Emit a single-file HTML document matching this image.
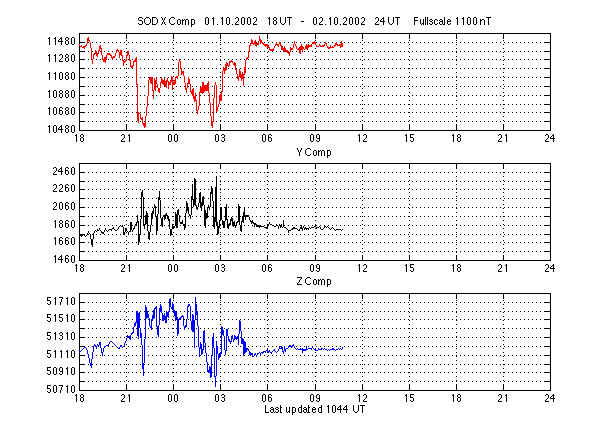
<!DOCTYPE html>
<html lang="en"><head><meta charset="utf-8"><title>SOD magnetometer X Y Z components</title>
<style>html,body{margin:0;padding:0;background:#fff;overflow:hidden}svg{display:block}text{font-family:"Liberation Sans",sans-serif;font-size:11px;fill:#000;fill-opacity:0}</style></head><body>
<svg width="610" height="440" viewBox="0 0 610 440">
<rect x="0" y="0" width="610" height="440" fill="#fff"/>
<g shape-rendering="crispEdges">
<line x1="88" y1="121.5" x2="544" y2="121.5" stroke="#000" stroke-width="1" stroke-dasharray="1 3"/>
<line x1="88" y1="112.5" x2="544" y2="112.5" stroke="#000" stroke-width="1" stroke-dasharray="1 3"/>
<line x1="88" y1="104.5" x2="544" y2="104.5" stroke="#000" stroke-width="1" stroke-dasharray="1 3"/>
<line x1="88" y1="95.5" x2="544" y2="95.5" stroke="#000" stroke-width="1" stroke-dasharray="1 3"/>
<line x1="88" y1="86.5" x2="544" y2="86.5" stroke="#000" stroke-width="1" stroke-dasharray="1 3"/>
<line x1="88" y1="77.5" x2="544" y2="77.5" stroke="#000" stroke-width="1" stroke-dasharray="1 3"/>
<line x1="88" y1="68.5" x2="544" y2="68.5" stroke="#000" stroke-width="1" stroke-dasharray="1 3"/>
<line x1="88" y1="59.5" x2="544" y2="59.5" stroke="#000" stroke-width="1" stroke-dasharray="1 3"/>
<line x1="88" y1="51.5" x2="544" y2="51.5" stroke="#000" stroke-width="1" stroke-dasharray="1 3"/>
<line x1="88" y1="42.5" x2="544" y2="42.5" stroke="#000" stroke-width="1" stroke-dasharray="1 3"/>
<line x1="126.5" y1="40" x2="126.5" y2="125" stroke="#000" stroke-width="1" stroke-dasharray="1 3"/>
<line x1="173.5" y1="40" x2="173.5" y2="125" stroke="#000" stroke-width="1" stroke-dasharray="1 3"/>
<line x1="220.5" y1="40" x2="220.5" y2="125" stroke="#000" stroke-width="1" stroke-dasharray="1 3"/>
<line x1="267.5" y1="40" x2="267.5" y2="125" stroke="#000" stroke-width="1" stroke-dasharray="1 3"/>
<line x1="315.5" y1="40" x2="315.5" y2="125" stroke="#000" stroke-width="1" stroke-dasharray="1 3"/>
<line x1="362.5" y1="40" x2="362.5" y2="125" stroke="#000" stroke-width="1" stroke-dasharray="1 3"/>
<line x1="409.5" y1="40" x2="409.5" y2="125" stroke="#000" stroke-width="1" stroke-dasharray="1 3"/>
<line x1="456.5" y1="40" x2="456.5" y2="125" stroke="#000" stroke-width="1" stroke-dasharray="1 3"/>
<line x1="503.5" y1="40" x2="503.5" y2="125" stroke="#000" stroke-width="1" stroke-dasharray="1 3"/>
<rect x="79" y="33" width="472" height="1" fill="#000"/>
<rect x="79" y="130" width="472" height="1" fill="#000"/>
<rect x="79" y="33" width="1" height="98" fill="#000"/>
<rect x="550" y="33" width="1" height="98" fill="#000"/>
<rect x="79" y="121" width="6" height="1" fill="#000"/>
<rect x="544" y="121" width="7" height="1" fill="#000"/>
<rect x="79" y="112" width="6" height="1" fill="#000"/>
<rect x="544" y="112" width="7" height="1" fill="#000"/>
<rect x="79" y="104" width="6" height="1" fill="#000"/>
<rect x="544" y="104" width="7" height="1" fill="#000"/>
<rect x="79" y="95" width="6" height="1" fill="#000"/>
<rect x="544" y="95" width="7" height="1" fill="#000"/>
<rect x="79" y="86" width="6" height="1" fill="#000"/>
<rect x="544" y="86" width="7" height="1" fill="#000"/>
<rect x="79" y="77" width="6" height="1" fill="#000"/>
<rect x="544" y="77" width="7" height="1" fill="#000"/>
<rect x="79" y="68" width="6" height="1" fill="#000"/>
<rect x="544" y="68" width="7" height="1" fill="#000"/>
<rect x="79" y="59" width="6" height="1" fill="#000"/>
<rect x="544" y="59" width="7" height="1" fill="#000"/>
<rect x="79" y="51" width="6" height="1" fill="#000"/>
<rect x="544" y="51" width="7" height="1" fill="#000"/>
<rect x="79" y="42" width="6" height="1" fill="#000"/>
<rect x="544" y="42" width="7" height="1" fill="#000"/>
<rect x="126" y="33" width="1" height="6" fill="#000"/>
<rect x="126" y="125" width="1" height="6" fill="#000"/>
<rect x="173" y="33" width="1" height="6" fill="#000"/>
<rect x="173" y="125" width="1" height="6" fill="#000"/>
<rect x="220" y="33" width="1" height="6" fill="#000"/>
<rect x="220" y="125" width="1" height="6" fill="#000"/>
<rect x="267" y="33" width="1" height="6" fill="#000"/>
<rect x="267" y="125" width="1" height="6" fill="#000"/>
<rect x="315" y="33" width="1" height="6" fill="#000"/>
<rect x="315" y="125" width="1" height="6" fill="#000"/>
<rect x="362" y="33" width="1" height="6" fill="#000"/>
<rect x="362" y="125" width="1" height="6" fill="#000"/>
<rect x="409" y="33" width="1" height="6" fill="#000"/>
<rect x="409" y="125" width="1" height="6" fill="#000"/>
<rect x="456" y="33" width="1" height="6" fill="#000"/>
<rect x="456" y="125" width="1" height="6" fill="#000"/>
<rect x="503" y="33" width="1" height="6" fill="#000"/>
<rect x="503" y="125" width="1" height="6" fill="#000"/>
<path d="M79 44h1v2h-1zM80 46h1v1h-1zM81 45h1v2h-1zM82 47h1v1h-1zM83 46h1v2h-1zM84 46h1v3h-1zM85 45h1v2h-1zM86 44h1v2h-1zM87 38h1v6h-1zM88 37h1v4h-1zM89 40h1v2h-1zM90 42h1v6h-1zM91 48h1v12h-1zM92 59h1v5h-1zM93 54h1v5h-1zM94 53h1v2h-1zM95 50h1v4h-1zM96 51h1v5h-1zM97 53h1v4h-1zM98 50h1v4h-1zM99 46h1v5h-1zM100 45h1v4h-1zM101 48h1v7h-1zM102 55h1v5h-1zM103 59h1v3h-1zM104 57h1v5h-1zM105 57h1v6h-1zM106 55h1v5h-1zM107 53h1v2h-1zM108 53h1v2h-1zM109 53h1v2h-1zM110 54h1v2h-1zM111 55h1v3h-1zM112 57h1v3h-1zM113 56h1v2h-1zM114 56h1v2h-1zM115 53h1v3h-1zM116 50h1v3h-1zM117 49h1v2h-1zM118 50h1v2h-1zM119 52h1v6h-1zM120 50h1v5h-1zM121 50h1v6h-1zM122 55h1v6h-1zM123 60h1v6h-1zM124 61h1v2h-1zM125 60h1v2h-1zM126 55h1v6h-1zM127 51h1v5h-1zM128 51h1v4h-1zM129 55h1v6h-1zM130 60h1v7h-1zM131 66h1v2h-1zM132 65h1v3h-1zM133 61h1v5h-1zM134 60h1v2h-1zM135 58h1v4h-1zM136 57h1v28h-1zM137 84h1v37h-1zM138 112h1v11h-1zM139 113h1v1h-1zM140 114h1v5h-1zM141 118h1v2h-1zM142 117h1v7h-1zM143 123h1v3h-1zM144 123h1v5h-1zM145 116h1v11h-1zM146 107h1v9h-1zM147 96h1v11h-1zM148 80h1v16h-1zM149 77h1v3h-1zM150 77h1v6h-1zM151 77h1v7h-1zM152 77h1v14h-1zM153 90h1v9h-1zM154 78h1v12h-1zM155 80h1v11h-1zM156 78h1v6h-1zM157 84h1v4h-1zM158 88h1v4h-1zM159 88h1v5h-1zM160 82h1v6h-1zM161 77h1v6h-1zM162 79h1v5h-1zM163 80h1v5h-1zM164 78h1v8h-1zM165 81h1v6h-1zM166 80h1v8h-1zM167 78h1v4h-1zM168 81h1v8h-1zM169 82h1v3h-1zM170 80h1v5h-1zM171 76h1v6h-1zM172 77h1v13h-1zM173 82h1v3h-1zM174 80h1v5h-1zM175 77h1v7h-1zM176 76h1v2h-1zM177 76h1v3h-1zM178 62h1v14h-1zM179 59h1v3h-1zM180 61h1v8h-1zM181 68h1v7h-1zM182 71h1v3h-1zM183 71h1v5h-1zM184 76h1v7h-1zM185 83h1v7h-1zM186 88h1v5h-1zM187 83h1v5h-1zM188 77h1v7h-1zM189 79h1v5h-1zM190 84h1v8h-1zM191 91h1v3h-1zM192 89h1v7h-1zM193 88h1v11h-1zM194 96h1v6h-1zM195 93h1v8h-1zM196 100h1v11h-1zM197 110h1v4h-1zM198 106h1v4h-1zM199 92h1v14h-1zM200 87h1v6h-1zM201 87h1v6h-1zM202 82h1v12h-1zM203 82h1v11h-1zM204 85h1v7h-1zM205 85h1v6h-1zM206 85h1v6h-1zM207 83h1v8h-1zM208 81h1v12h-1zM209 93h1v10h-1zM210 103h1v13h-1zM211 116h1v10h-1zM212 121h1v7h-1zM213 98h1v24h-1zM214 85h1v13h-1zM215 82h1v3h-1zM216 85h1v27h-1zM217 107h1v4h-1zM218 104h1v3h-1zM219 95h1v9h-1zM220 94h1v7h-1zM221 91h1v10h-1zM222 71h1v21h-1zM223 67h1v4h-1zM224 68h1v6h-1zM225 64h1v7h-1zM226 62h1v8h-1zM227 63h1v3h-1zM228 65h1v2h-1zM229 61h1v5h-1zM230 61h1v2h-1zM231 60h1v2h-1zM232 61h1v2h-1zM233 63h1v2h-1zM234 62h1v4h-1zM235 63h1v7h-1zM236 69h1v5h-1zM237 74h1v5h-1zM238 76h1v5h-1zM239 69h1v8h-1zM240 71h1v7h-1zM241 74h1v7h-1zM242 72h1v7h-1zM243 74h1v12h-1zM244 67h1v8h-1zM245 60h1v13h-1zM246 58h1v2h-1zM247 57h1v2h-1zM248 51h1v7h-1zM249 45h1v7h-1zM250 43h1v3h-1zM251 39h1v5h-1zM252 40h1v4h-1zM253 43h1v2h-1zM254 41h1v3h-1zM255 40h1v6h-1zM256 43h1v4h-1zM257 43h1v2h-1zM258 41h1v4h-1zM259 36h1v5h-1zM260 39h1v5h-1zM261 40h1v3h-1zM262 42h1v2h-1zM263 43h1v2h-1zM264 44h1v2h-1zM265 44h1v3h-1zM266 44h1v2h-1zM267 44h1v4h-1zM268 45h1v3h-1zM269 47h1v3h-1zM270 49h1v2h-1zM271 49h1v2h-1zM272 49h1v2h-1zM273 48h1v3h-1zM274 46h1v2h-1zM275 44h1v2h-1zM276 42h1v3h-1zM277 44h1v2h-1zM278 44h1v3h-1zM279 42h1v2h-1zM280 42h1v4h-1zM281 45h1v5h-1zM282 46h1v4h-1zM283 48h1v4h-1zM284 46h1v5h-1zM285 48h1v4h-1zM286 50h1v2h-1zM287 50h1v3h-1zM288 51h1v3h-1zM289 52h1v4h-1zM290 47h1v5h-1zM291 48h1v2h-1zM292 48h1v2h-1zM293 44h1v4h-1zM294 41h1v3h-1zM295 44h1v2h-1zM296 46h1v3h-1zM297 49h1v1h-1zM298 48h1v2h-1zM299 47h1v6h-1zM300 46h1v8h-1zM301 44h1v6h-1zM302 46h1v6h-1zM303 47h1v2h-1zM304 49h1v1h-1zM305 46h1v3h-1zM306 44h1v5h-1zM307 45h1v5h-1zM308 44h1v4h-1zM309 45h1v2h-1zM310 45h1v2h-1zM311 44h1v3h-1zM312 42h1v2h-1zM313 42h1v2h-1zM314 41h1v3h-1zM315 42h1v3h-1zM316 45h1v2h-1zM317 46h1v1h-1zM318 46h1v1h-1zM319 44h1v2h-1zM320 45h1v2h-1zM321 46h1v1h-1zM322 45h1v2h-1zM323 45h1v2h-1zM324 44h1v2h-1zM325 42h1v2h-1zM326 43h1v3h-1zM327 46h1v2h-1zM328 47h1v2h-1zM329 47h1v2h-1zM330 45h1v3h-1zM331 47h1v1h-1zM332 46h1v2h-1zM333 47h1v1h-1zM334 45h1v2h-1zM335 43h1v3h-1zM336 42h1v3h-1zM337 44h1v2h-1zM338 45h1v1h-1zM339 44h1v2h-1zM340 44h1v4h-1zM341 41h1v6h-1zM342 43h1v4h-1z" fill="#ff0000"/>
<line x1="88" y1="251.5" x2="544" y2="251.5" stroke="#000" stroke-width="1" stroke-dasharray="1 3"/>
<line x1="88" y1="242.5" x2="544" y2="242.5" stroke="#000" stroke-width="1" stroke-dasharray="1 3"/>
<line x1="88" y1="234.5" x2="544" y2="234.5" stroke="#000" stroke-width="1" stroke-dasharray="1 3"/>
<line x1="88" y1="225.5" x2="544" y2="225.5" stroke="#000" stroke-width="1" stroke-dasharray="1 3"/>
<line x1="88" y1="216.5" x2="544" y2="216.5" stroke="#000" stroke-width="1" stroke-dasharray="1 3"/>
<line x1="88" y1="207.5" x2="544" y2="207.5" stroke="#000" stroke-width="1" stroke-dasharray="1 3"/>
<line x1="88" y1="198.5" x2="544" y2="198.5" stroke="#000" stroke-width="1" stroke-dasharray="1 3"/>
<line x1="88" y1="189.5" x2="544" y2="189.5" stroke="#000" stroke-width="1" stroke-dasharray="1 3"/>
<line x1="88" y1="181.5" x2="544" y2="181.5" stroke="#000" stroke-width="1" stroke-dasharray="1 3"/>
<line x1="88" y1="172.5" x2="544" y2="172.5" stroke="#000" stroke-width="1" stroke-dasharray="1 3"/>
<line x1="126.5" y1="172" x2="126.5" y2="255" stroke="#000" stroke-width="1" stroke-dasharray="1 3"/>
<line x1="173.5" y1="172" x2="173.5" y2="255" stroke="#000" stroke-width="1" stroke-dasharray="1 3"/>
<line x1="220.5" y1="172" x2="220.5" y2="255" stroke="#000" stroke-width="1" stroke-dasharray="1 3"/>
<line x1="267.5" y1="172" x2="267.5" y2="255" stroke="#000" stroke-width="1" stroke-dasharray="1 3"/>
<line x1="315.5" y1="172" x2="315.5" y2="255" stroke="#000" stroke-width="1" stroke-dasharray="1 3"/>
<line x1="362.5" y1="172" x2="362.5" y2="255" stroke="#000" stroke-width="1" stroke-dasharray="1 3"/>
<line x1="409.5" y1="172" x2="409.5" y2="255" stroke="#000" stroke-width="1" stroke-dasharray="1 3"/>
<line x1="456.5" y1="172" x2="456.5" y2="255" stroke="#000" stroke-width="1" stroke-dasharray="1 3"/>
<line x1="503.5" y1="172" x2="503.5" y2="255" stroke="#000" stroke-width="1" stroke-dasharray="1 3"/>
<rect x="79" y="163" width="472" height="1" fill="#000"/>
<rect x="79" y="260" width="472" height="1" fill="#000"/>
<rect x="79" y="163" width="1" height="98" fill="#000"/>
<rect x="550" y="163" width="1" height="98" fill="#000"/>
<rect x="79" y="251" width="6" height="1" fill="#000"/>
<rect x="544" y="251" width="7" height="1" fill="#000"/>
<rect x="79" y="242" width="6" height="1" fill="#000"/>
<rect x="544" y="242" width="7" height="1" fill="#000"/>
<rect x="79" y="234" width="6" height="1" fill="#000"/>
<rect x="544" y="234" width="7" height="1" fill="#000"/>
<rect x="79" y="225" width="6" height="1" fill="#000"/>
<rect x="544" y="225" width="7" height="1" fill="#000"/>
<rect x="79" y="216" width="6" height="1" fill="#000"/>
<rect x="544" y="216" width="7" height="1" fill="#000"/>
<rect x="79" y="207" width="6" height="1" fill="#000"/>
<rect x="544" y="207" width="7" height="1" fill="#000"/>
<rect x="79" y="198" width="6" height="1" fill="#000"/>
<rect x="544" y="198" width="7" height="1" fill="#000"/>
<rect x="79" y="189" width="6" height="1" fill="#000"/>
<rect x="544" y="189" width="7" height="1" fill="#000"/>
<rect x="79" y="181" width="6" height="1" fill="#000"/>
<rect x="544" y="181" width="7" height="1" fill="#000"/>
<rect x="79" y="172" width="6" height="1" fill="#000"/>
<rect x="544" y="172" width="7" height="1" fill="#000"/>
<rect x="126" y="163" width="1" height="6" fill="#000"/>
<rect x="126" y="255" width="1" height="6" fill="#000"/>
<rect x="173" y="163" width="1" height="6" fill="#000"/>
<rect x="173" y="255" width="1" height="6" fill="#000"/>
<rect x="220" y="163" width="1" height="6" fill="#000"/>
<rect x="220" y="255" width="1" height="6" fill="#000"/>
<rect x="267" y="163" width="1" height="6" fill="#000"/>
<rect x="267" y="255" width="1" height="6" fill="#000"/>
<rect x="315" y="163" width="1" height="6" fill="#000"/>
<rect x="315" y="255" width="1" height="6" fill="#000"/>
<rect x="362" y="163" width="1" height="6" fill="#000"/>
<rect x="362" y="255" width="1" height="6" fill="#000"/>
<rect x="409" y="163" width="1" height="6" fill="#000"/>
<rect x="409" y="255" width="1" height="6" fill="#000"/>
<rect x="456" y="163" width="1" height="6" fill="#000"/>
<rect x="456" y="255" width="1" height="6" fill="#000"/>
<rect x="503" y="163" width="1" height="6" fill="#000"/>
<rect x="503" y="255" width="1" height="6" fill="#000"/>
<path d="M79 234h1v1h-1zM80 235h1v1h-1zM81 235h1v2h-1zM82 234h1v2h-1zM83 234h1v1h-1zM84 234h1v2h-1zM85 236h1v1h-1zM86 235h1v1h-1zM87 233h1v2h-1zM88 231h1v2h-1zM89 233h1v1h-1zM90 234h1v5h-1zM91 239h1v6h-1zM92 239h1v8h-1zM93 233h1v6h-1zM94 231h1v2h-1zM95 230h1v1h-1zM96 231h1v1h-1zM97 229h1v2h-1zM98 230h1v1h-1zM99 228h1v2h-1zM100 230h1v1h-1zM101 231h1v2h-1zM102 232h1v2h-1zM103 232h1v2h-1zM104 230h1v2h-1zM105 228h1v2h-1zM106 230h1v1h-1zM107 231h1v1h-1zM108 230h1v1h-1zM109 229h1v1h-1zM110 229h1v1h-1zM111 229h1v2h-1zM112 228h1v1h-1zM113 227h1v2h-1zM114 229h1v1h-1zM115 230h1v1h-1zM116 230h1v1h-1zM117 229h1v1h-1zM118 227h1v2h-1zM119 226h1v1h-1zM120 225h1v1h-1zM121 226h1v1h-1zM122 225h1v2h-1zM123 227h1v8h-1zM124 232h1v3h-1zM125 228h1v4h-1zM126 229h1v2h-1zM127 231h1v1h-1zM128 232h1v3h-1zM129 231h1v1h-1zM130 222h1v10h-1zM131 222h1v8h-1zM132 230h1v2h-1zM133 228h1v2h-1zM134 226h1v3h-1zM135 224h1v2h-1zM136 222h1v3h-1zM137 215h1v8h-1zM138 221h1v24h-1zM139 234h1v8h-1zM140 219h1v16h-1zM141 192h1v27h-1zM142 190h1v7h-1zM143 197h1v29h-1zM144 224h1v5h-1zM145 215h1v10h-1zM146 211h1v13h-1zM147 213h1v18h-1zM148 231h1v8h-1zM149 232h1v8h-1zM150 225h1v7h-1zM151 213h1v12h-1zM152 211h1v8h-1zM153 208h1v6h-1zM154 204h1v4h-1zM155 206h1v11h-1zM156 216h1v19h-1zM157 214h1v17h-1zM158 197h1v17h-1zM159 191h1v9h-1zM160 200h1v18h-1zM161 218h1v8h-1zM162 217h1v10h-1zM163 215h1v2h-1zM164 215h1v5h-1zM165 214h1v5h-1zM166 213h1v3h-1zM167 215h1v4h-1zM168 216h1v5h-1zM169 219h1v10h-1zM170 229h1v7h-1zM171 229h1v6h-1zM172 224h1v5h-1zM173 226h1v2h-1zM174 226h1v2h-1zM175 212h1v14h-1zM176 214h1v14h-1zM177 210h1v18h-1zM178 209h1v6h-1zM179 215h1v7h-1zM180 222h1v2h-1zM181 222h1v2h-1zM182 220h1v4h-1zM183 224h1v2h-1zM184 224h1v6h-1zM185 213h1v15h-1zM186 201h1v12h-1zM187 203h1v8h-1zM188 207h1v7h-1zM189 214h1v2h-1zM190 215h1v4h-1zM191 196h1v19h-1zM192 184h1v16h-1zM193 199h1v8h-1zM194 178h1v27h-1zM195 179h1v27h-1zM196 205h1v4h-1zM197 207h1v3h-1zM198 203h1v4h-1zM199 193h1v10h-1zM200 192h1v15h-1zM201 202h1v9h-1zM202 197h1v9h-1zM203 196h1v9h-1zM204 205h1v21h-1zM205 210h1v18h-1zM206 213h1v6h-1zM207 207h1v11h-1zM208 205h1v3h-1zM209 207h1v3h-1zM210 192h1v15h-1zM211 186h1v8h-1zM212 188h1v13h-1zM213 201h1v26h-1zM214 217h1v12h-1zM215 187h1v35h-1zM216 176h1v50h-1zM217 222h1v13h-1zM218 226h1v8h-1zM219 220h1v8h-1zM220 207h1v13h-1zM221 207h1v13h-1zM222 220h1v5h-1zM223 221h1v7h-1zM224 221h1v7h-1zM225 207h1v14h-1zM226 204h1v16h-1zM227 219h1v9h-1zM228 224h1v5h-1zM229 223h1v3h-1zM230 219h1v6h-1zM231 217h1v4h-1zM232 218h1v8h-1zM233 222h1v5h-1zM234 221h1v5h-1zM235 225h1v3h-1zM236 222h1v4h-1zM237 221h1v2h-1zM238 204h1v18h-1zM239 206h1v19h-1zM240 225h1v6h-1zM241 221h1v11h-1zM242 216h1v6h-1zM243 212h1v11h-1zM244 207h1v9h-1zM245 215h1v5h-1zM246 215h1v2h-1zM247 215h1v2h-1zM248 215h1v2h-1zM249 217h1v3h-1zM250 220h1v2h-1zM251 221h1v3h-1zM252 220h1v3h-1zM253 222h1v2h-1zM254 223h1v4h-1zM255 223h1v2h-1zM256 224h1v3h-1zM257 225h1v2h-1zM258 225h1v2h-1zM259 225h1v3h-1zM260 226h1v1h-1zM261 226h1v1h-1zM262 226h1v1h-1zM263 226h1v1h-1zM264 227h1v1h-1zM265 227h1v1h-1zM266 227h1v2h-1zM267 225h1v3h-1zM268 224h1v1h-1zM269 222h1v2h-1zM270 224h1v1h-1zM271 224h1v1h-1zM272 225h1v1h-1zM273 225h1v1h-1zM274 226h1v1h-1zM275 226h1v1h-1zM276 224h1v2h-1zM277 225h1v1h-1zM278 226h1v3h-1zM279 224h1v2h-1zM280 225h1v3h-1zM281 224h1v3h-1zM282 227h1v1h-1zM283 220h1v7h-1zM284 227h1v1h-1zM285 227h1v1h-1zM286 228h1v1h-1zM287 229h1v1h-1zM288 230h1v3h-1zM289 230h1v1h-1zM290 230h1v1h-1zM291 229h1v1h-1zM292 228h1v2h-1zM293 227h1v2h-1zM294 227h1v2h-1zM295 228h1v1h-1zM296 228h1v1h-1zM297 229h1v1h-1zM298 230h1v1h-1zM299 229h1v2h-1zM300 227h1v2h-1zM301 225h1v4h-1zM302 228h1v3h-1zM303 226h1v2h-1zM304 228h1v2h-1zM305 227h1v2h-1zM306 228h1v2h-1zM307 228h1v1h-1zM308 228h1v2h-1zM309 227h1v1h-1zM310 228h1v1h-1zM311 227h1v1h-1zM312 227h1v1h-1zM313 227h1v1h-1zM314 226h1v1h-1zM315 225h1v2h-1zM316 227h1v2h-1zM317 227h1v1h-1zM318 227h1v1h-1zM319 226h1v1h-1zM320 227h1v2h-1zM321 229h1v1h-1zM322 229h1v1h-1zM323 228h1v1h-1zM324 226h1v2h-1zM325 226h1v1h-1zM326 227h1v1h-1zM327 226h1v1h-1zM328 227h1v1h-1zM329 228h1v1h-1zM330 229h1v1h-1zM331 228h1v1h-1zM332 227h1v1h-1zM333 228h1v1h-1zM334 229h1v1h-1zM335 230h1v1h-1zM336 229h1v1h-1zM337 229h1v1h-1zM338 229h1v1h-1zM339 229h1v1h-1zM340 229h1v1h-1zM341 230h1v1h-1zM342 229h1v1h-1z" fill="#000000"/>
<line x1="88" y1="381.5" x2="544" y2="381.5" stroke="#000" stroke-width="1" stroke-dasharray="1 3"/>
<line x1="88" y1="372.5" x2="544" y2="372.5" stroke="#000" stroke-width="1" stroke-dasharray="1 3"/>
<line x1="88" y1="364.5" x2="544" y2="364.5" stroke="#000" stroke-width="1" stroke-dasharray="1 3"/>
<line x1="88" y1="355.5" x2="544" y2="355.5" stroke="#000" stroke-width="1" stroke-dasharray="1 3"/>
<line x1="88" y1="346.5" x2="544" y2="346.5" stroke="#000" stroke-width="1" stroke-dasharray="1 3"/>
<line x1="88" y1="337.5" x2="544" y2="337.5" stroke="#000" stroke-width="1" stroke-dasharray="1 3"/>
<line x1="88" y1="328.5" x2="544" y2="328.5" stroke="#000" stroke-width="1" stroke-dasharray="1 3"/>
<line x1="88" y1="319.5" x2="544" y2="319.5" stroke="#000" stroke-width="1" stroke-dasharray="1 3"/>
<line x1="88" y1="311.5" x2="544" y2="311.5" stroke="#000" stroke-width="1" stroke-dasharray="1 3"/>
<line x1="88" y1="302.5" x2="544" y2="302.5" stroke="#000" stroke-width="1" stroke-dasharray="1 3"/>
<line x1="126.5" y1="300" x2="126.5" y2="385" stroke="#000" stroke-width="1" stroke-dasharray="1 3"/>
<line x1="173.5" y1="300" x2="173.5" y2="385" stroke="#000" stroke-width="1" stroke-dasharray="1 3"/>
<line x1="220.5" y1="300" x2="220.5" y2="385" stroke="#000" stroke-width="1" stroke-dasharray="1 3"/>
<line x1="267.5" y1="300" x2="267.5" y2="385" stroke="#000" stroke-width="1" stroke-dasharray="1 3"/>
<line x1="315.5" y1="300" x2="315.5" y2="385" stroke="#000" stroke-width="1" stroke-dasharray="1 3"/>
<line x1="362.5" y1="300" x2="362.5" y2="385" stroke="#000" stroke-width="1" stroke-dasharray="1 3"/>
<line x1="409.5" y1="300" x2="409.5" y2="385" stroke="#000" stroke-width="1" stroke-dasharray="1 3"/>
<line x1="456.5" y1="300" x2="456.5" y2="385" stroke="#000" stroke-width="1" stroke-dasharray="1 3"/>
<line x1="503.5" y1="300" x2="503.5" y2="385" stroke="#000" stroke-width="1" stroke-dasharray="1 3"/>
<rect x="79" y="293" width="472" height="1" fill="#000"/>
<rect x="79" y="390" width="472" height="1" fill="#000"/>
<rect x="79" y="293" width="1" height="98" fill="#000"/>
<rect x="550" y="293" width="1" height="98" fill="#000"/>
<rect x="79" y="381" width="6" height="1" fill="#000"/>
<rect x="544" y="381" width="7" height="1" fill="#000"/>
<rect x="79" y="372" width="6" height="1" fill="#000"/>
<rect x="544" y="372" width="7" height="1" fill="#000"/>
<rect x="79" y="364" width="6" height="1" fill="#000"/>
<rect x="544" y="364" width="7" height="1" fill="#000"/>
<rect x="79" y="355" width="6" height="1" fill="#000"/>
<rect x="544" y="355" width="7" height="1" fill="#000"/>
<rect x="79" y="346" width="6" height="1" fill="#000"/>
<rect x="544" y="346" width="7" height="1" fill="#000"/>
<rect x="79" y="337" width="6" height="1" fill="#000"/>
<rect x="544" y="337" width="7" height="1" fill="#000"/>
<rect x="79" y="328" width="6" height="1" fill="#000"/>
<rect x="544" y="328" width="7" height="1" fill="#000"/>
<rect x="79" y="319" width="6" height="1" fill="#000"/>
<rect x="544" y="319" width="7" height="1" fill="#000"/>
<rect x="79" y="311" width="6" height="1" fill="#000"/>
<rect x="544" y="311" width="7" height="1" fill="#000"/>
<rect x="79" y="302" width="6" height="1" fill="#000"/>
<rect x="544" y="302" width="7" height="1" fill="#000"/>
<rect x="126" y="293" width="1" height="6" fill="#000"/>
<rect x="126" y="385" width="1" height="6" fill="#000"/>
<rect x="173" y="293" width="1" height="6" fill="#000"/>
<rect x="173" y="385" width="1" height="6" fill="#000"/>
<rect x="220" y="293" width="1" height="6" fill="#000"/>
<rect x="220" y="385" width="1" height="6" fill="#000"/>
<rect x="267" y="293" width="1" height="6" fill="#000"/>
<rect x="267" y="385" width="1" height="6" fill="#000"/>
<rect x="315" y="293" width="1" height="6" fill="#000"/>
<rect x="315" y="385" width="1" height="6" fill="#000"/>
<rect x="362" y="293" width="1" height="6" fill="#000"/>
<rect x="362" y="385" width="1" height="6" fill="#000"/>
<rect x="409" y="293" width="1" height="6" fill="#000"/>
<rect x="409" y="385" width="1" height="6" fill="#000"/>
<rect x="456" y="293" width="1" height="6" fill="#000"/>
<rect x="456" y="385" width="1" height="6" fill="#000"/>
<rect x="503" y="293" width="1" height="6" fill="#000"/>
<rect x="503" y="385" width="1" height="6" fill="#000"/>
<path d="M79 351h1v2h-1zM80 351h1v1h-1zM81 350h1v1h-1zM82 349h1v1h-1zM83 348h1v1h-1zM84 347h1v1h-1zM85 347h1v1h-1zM86 348h1v2h-1zM87 350h1v4h-1zM88 354h1v4h-1zM89 358h1v5h-1zM90 363h1v3h-1zM91 359h1v9h-1zM92 352h1v7h-1zM93 346h1v6h-1zM94 344h1v2h-1zM95 345h1v2h-1zM96 346h1v3h-1zM97 344h1v2h-1zM98 345h1v2h-1zM99 342h1v3h-1zM100 342h1v6h-1zM101 348h1v5h-1zM102 352h1v4h-1zM103 348h1v4h-1zM104 346h1v2h-1zM105 346h1v1h-1zM106 345h1v1h-1zM107 345h1v1h-1zM108 344h1v2h-1zM109 342h1v2h-1zM110 341h1v1h-1zM111 341h1v1h-1zM112 342h1v1h-1zM113 343h1v1h-1zM114 344h1v1h-1zM115 345h1v1h-1zM116 346h1v1h-1zM117 347h1v1h-1zM118 348h1v1h-1zM119 347h1v2h-1zM120 345h1v2h-1zM121 345h1v2h-1zM122 347h1v1h-1zM123 346h1v1h-1zM124 343h1v3h-1zM125 341h1v2h-1zM126 338h1v3h-1zM127 335h1v3h-1zM128 336h1v1h-1zM129 336h1v3h-1zM130 335h1v5h-1zM131 333h1v2h-1zM132 332h1v2h-1zM133 327h1v6h-1zM134 323h1v4h-1zM135 322h1v4h-1zM136 311h1v12h-1zM137 311h1v25h-1zM138 313h1v26h-1zM139 312h1v16h-1zM140 328h1v10h-1zM141 333h1v12h-1zM142 345h1v24h-1zM143 363h1v13h-1zM144 339h1v24h-1zM145 305h1v34h-1zM146 307h1v12h-1zM147 311h1v7h-1zM148 314h1v4h-1zM149 318h1v8h-1zM150 326h1v2h-1zM151 319h1v11h-1zM152 315h1v6h-1zM153 310h1v9h-1zM154 308h1v10h-1zM155 307h1v2h-1zM156 306h1v21h-1zM157 326h1v9h-1zM158 325h1v12h-1zM159 308h1v17h-1zM160 304h1v8h-1zM161 306h1v7h-1zM162 313h1v8h-1zM163 315h1v6h-1zM164 313h1v6h-1zM165 316h1v7h-1zM166 311h1v12h-1zM167 312h1v5h-1zM168 311h1v7h-1zM169 299h1v13h-1zM170 298h1v9h-1zM171 307h1v2h-1zM172 303h1v7h-1zM173 304h1v9h-1zM174 310h1v6h-1zM175 311h1v10h-1zM176 311h1v8h-1zM177 317h1v19h-1zM178 319h1v15h-1zM179 318h1v2h-1zM180 317h1v2h-1zM181 316h1v2h-1zM182 315h1v2h-1zM183 316h1v10h-1zM184 326h1v4h-1zM185 325h1v3h-1zM186 319h1v8h-1zM187 306h1v13h-1zM188 304h1v3h-1zM189 304h1v2h-1zM190 306h1v15h-1zM191 321h1v9h-1zM192 314h1v18h-1zM193 315h1v17h-1zM194 320h1v28h-1zM195 297h1v23h-1zM196 304h1v11h-1zM197 311h1v15h-1zM198 326h1v21h-1zM199 347h1v10h-1zM200 342h1v7h-1zM201 344h1v11h-1zM202 349h1v5h-1zM203 331h1v19h-1zM204 330h1v13h-1zM205 343h1v10h-1zM206 353h1v9h-1zM207 362h1v10h-1zM208 370h1v3h-1zM209 366h1v7h-1zM210 367h1v11h-1zM211 355h1v22h-1zM212 337h1v19h-1zM213 333h1v15h-1zM214 348h1v29h-1zM215 376h1v11h-1zM216 341h1v35h-1zM217 346h1v8h-1zM218 354h1v6h-1zM219 353h1v5h-1zM220 352h1v4h-1zM221 326h1v28h-1zM222 327h1v8h-1zM223 330h1v6h-1zM224 336h1v14h-1zM225 350h1v5h-1zM226 329h1v22h-1zM227 329h1v7h-1zM228 336h1v5h-1zM229 339h1v3h-1zM230 341h1v3h-1zM231 336h1v6h-1zM232 335h1v4h-1zM233 339h1v3h-1zM234 335h1v5h-1zM235 336h1v3h-1zM236 337h1v3h-1zM237 336h1v3h-1zM238 334h1v11h-1zM239 320h1v14h-1zM240 321h1v10h-1zM241 331h1v13h-1zM242 338h1v6h-1zM243 339h1v17h-1zM244 341h1v13h-1zM245 342h1v11h-1zM246 348h1v4h-1zM247 348h1v2h-1zM248 349h1v2h-1zM249 351h1v4h-1zM250 352h1v4h-1zM251 353h1v2h-1zM252 353h1v4h-1zM253 356h1v1h-1zM254 354h1v2h-1zM255 353h1v2h-1zM256 355h1v2h-1zM257 353h1v2h-1zM258 353h1v1h-1zM259 352h1v1h-1zM260 353h1v3h-1zM261 352h1v1h-1zM262 352h1v2h-1zM263 351h1v2h-1zM264 351h1v1h-1zM265 351h1v2h-1zM266 350h1v1h-1zM267 349h1v3h-1zM268 351h1v2h-1zM269 350h1v2h-1zM270 352h1v1h-1zM271 352h1v2h-1zM272 351h1v1h-1zM273 350h1v1h-1zM274 349h1v2h-1zM275 351h1v1h-1zM276 352h1v1h-1zM277 351h1v1h-1zM278 349h1v2h-1zM279 346h1v3h-1zM280 348h1v1h-1zM281 346h1v3h-1zM282 347h1v5h-1zM283 351h1v3h-1zM284 346h1v5h-1zM285 349h1v3h-1zM286 348h1v1h-1zM287 348h1v1h-1zM288 346h1v2h-1zM289 345h1v2h-1zM290 345h1v2h-1zM291 346h1v2h-1zM292 345h1v2h-1zM293 344h1v2h-1zM294 346h1v2h-1zM295 348h1v1h-1zM296 349h1v1h-1zM297 348h1v1h-1zM298 349h1v1h-1zM299 349h1v1h-1zM300 348h1v2h-1zM301 349h1v1h-1zM302 348h1v5h-1zM303 349h1v2h-1zM304 349h1v2h-1zM305 349h1v2h-1zM306 346h1v4h-1zM307 349h1v1h-1zM308 348h1v1h-1zM309 348h1v1h-1zM310 348h1v1h-1zM311 348h1v2h-1zM312 346h1v2h-1zM313 348h1v1h-1zM314 349h1v1h-1zM315 349h1v2h-1zM316 350h1v1h-1zM317 350h1v1h-1zM318 348h1v2h-1zM319 349h1v1h-1zM320 349h1v1h-1zM321 348h1v2h-1zM322 348h1v1h-1zM323 349h1v1h-1zM324 348h1v1h-1zM325 349h1v1h-1zM326 349h1v1h-1zM327 350h1v1h-1zM328 349h1v1h-1zM329 350h1v1h-1zM330 349h1v1h-1zM331 349h1v1h-1zM332 348h1v2h-1zM333 348h1v2h-1zM334 349h1v1h-1zM335 350h1v1h-1zM336 349h1v1h-1zM337 349h1v1h-1zM338 348h1v1h-1zM339 349h1v1h-1zM340 348h1v1h-1zM341 349h1v1h-1zM342 347h1v2h-1z" fill="#0000ff"/>
<defs>
<path id="g2d" d="M0 4h3v1h-3z"/>
<path id="g2e" d="M0 7h1v1h-1z"/>
<path id="g30" d="M1 0h2v1h-2zM0 1h1v1h-1zM3 1h1v1h-1zM0 2h1v1h-1zM3 2h1v1h-1zM0 3h1v1h-1zM3 3h1v1h-1zM0 4h1v1h-1zM3 4h1v1h-1zM0 5h1v1h-1zM3 5h1v1h-1zM0 6h1v1h-1zM3 6h1v1h-1zM1 7h2v1h-2z"/>
<path id="g31" d="M1 0h1v1h-1zM0 1h2v1h-2zM1 2h1v1h-1zM1 3h1v1h-1zM1 4h1v1h-1zM1 5h1v1h-1zM1 6h1v1h-1zM1 7h1v1h-1z"/>
<path id="g32" d="M1 0h2v1h-2zM0 1h1v1h-1zM3 1h1v1h-1zM3 2h1v1h-1zM3 3h1v1h-1zM2 4h1v1h-1zM1 5h1v1h-1zM0 6h1v1h-1zM0 7h4v1h-4z"/>
<path id="g33" d="M1 0h2v1h-2zM0 1h1v1h-1zM3 1h1v1h-1zM3 2h1v1h-1zM1 3h2v1h-2zM3 4h1v1h-1zM3 5h1v1h-1zM0 6h1v1h-1zM3 6h1v1h-1zM1 7h2v1h-2z"/>
<path id="g34" d="M3 0h1v1h-1zM2 1h2v1h-2zM1 2h1v1h-1zM3 2h1v1h-1zM0 3h1v1h-1zM3 3h1v1h-1zM0 4h5v1h-5zM3 5h1v1h-1zM3 6h1v1h-1zM3 7h1v1h-1z"/>
<path id="g35" d="M0 0h4v1h-4zM0 1h1v1h-1zM0 2h1v1h-1zM0 3h3v1h-3zM3 4h1v1h-1zM3 5h1v1h-1zM0 6h1v1h-1zM3 6h1v1h-1zM1 7h2v1h-2z"/>
<path id="g36" d="M1 0h2v1h-2zM0 1h1v1h-1zM3 1h1v1h-1zM0 2h1v1h-1zM0 3h3v1h-3zM0 4h1v1h-1zM3 4h1v1h-1zM0 5h1v1h-1zM3 5h1v1h-1zM0 6h1v1h-1zM3 6h1v1h-1zM1 7h2v1h-2z"/>
<path id="g37" d="M0 0h4v1h-4zM3 1h1v1h-1zM2 2h1v1h-1zM2 3h1v1h-1zM2 4h1v1h-1zM1 5h1v1h-1zM1 6h1v1h-1zM1 7h1v1h-1z"/>
<path id="g38" d="M1 0h2v1h-2zM0 1h1v1h-1zM3 1h1v1h-1zM0 2h1v1h-1zM3 2h1v1h-1zM1 3h2v1h-2zM0 4h1v1h-1zM3 4h1v1h-1zM0 5h1v1h-1zM3 5h1v1h-1zM0 6h1v1h-1zM3 6h1v1h-1zM1 7h2v1h-2z"/>
<path id="g39" d="M1 0h2v1h-2zM0 1h1v1h-1zM3 1h1v1h-1zM0 2h1v1h-1zM3 2h1v1h-1zM0 3h1v1h-1zM3 3h1v1h-1zM1 4h3v1h-3zM3 5h1v1h-1zM0 6h1v1h-1zM3 6h1v1h-1zM1 7h2v1h-2z"/>
<path id="g43" d="M2 0h3v1h-3zM1 1h1v1h-1zM5 1h1v1h-1zM0 2h1v1h-1zM0 3h1v1h-1zM0 4h1v1h-1zM0 5h1v1h-1zM1 6h1v1h-1zM5 6h1v1h-1zM2 7h3v1h-3z"/>
<path id="g44" d="M0 0h4v1h-4zM0 1h1v1h-1zM4 1h1v1h-1zM0 2h1v1h-1zM5 2h1v1h-1zM0 3h1v1h-1zM5 3h1v1h-1zM0 4h1v1h-1zM5 4h1v1h-1zM0 5h1v1h-1zM5 5h1v1h-1zM0 6h1v1h-1zM4 6h1v1h-1zM0 7h4v1h-4z"/>
<path id="g46" d="M0 0h4v1h-4zM0 1h1v1h-1zM0 2h1v1h-1zM0 3h4v1h-4zM0 4h1v1h-1zM0 5h1v1h-1zM0 6h1v1h-1zM0 7h1v1h-1z"/>
<path id="g4c" d="M0 0h1v1h-1zM0 1h1v1h-1zM0 2h1v1h-1zM0 3h1v1h-1zM0 4h1v1h-1zM0 5h1v1h-1zM0 6h1v1h-1zM0 7h4v1h-4z"/>
<path id="g4f" d="M2 0h3v1h-3zM1 1h1v1h-1zM5 1h1v1h-1zM0 2h1v1h-1zM6 2h1v1h-1zM0 3h1v1h-1zM6 3h1v1h-1zM0 4h1v1h-1zM6 4h1v1h-1zM0 5h1v1h-1zM6 5h1v1h-1zM1 6h1v1h-1zM5 6h1v1h-1zM2 7h3v1h-3z"/>
<path id="g53" d="M1 0h3v1h-3zM0 1h1v1h-1zM4 1h1v1h-1zM0 2h1v1h-1zM1 3h3v1h-3zM4 4h1v1h-1zM4 5h1v1h-1zM0 6h1v1h-1zM4 6h1v1h-1zM1 7h3v1h-3z"/>
<path id="g54" d="M0 0h5v1h-5zM2 1h1v1h-1zM2 2h1v1h-1zM2 3h1v1h-1zM2 4h1v1h-1zM2 5h1v1h-1zM2 6h1v1h-1zM2 7h1v1h-1z"/>
<path id="g55" d="M0 0h1v1h-1zM5 0h1v1h-1zM0 1h1v1h-1zM5 1h1v1h-1zM0 2h1v1h-1zM5 2h1v1h-1zM0 3h1v1h-1zM5 3h1v1h-1zM0 4h1v1h-1zM5 4h1v1h-1zM0 5h1v1h-1zM5 5h1v1h-1zM1 6h1v1h-1zM4 6h1v1h-1zM2 7h2v1h-2z"/>
<path id="g58" d="M0 0h1v1h-1zM4 0h1v1h-1zM1 1h1v1h-1zM3 1h1v1h-1zM1 2h1v1h-1zM3 2h1v1h-1zM2 3h1v1h-1zM2 4h1v1h-1zM1 5h1v1h-1zM3 5h1v1h-1zM1 6h1v1h-1zM3 6h1v1h-1zM0 7h1v1h-1zM4 7h1v1h-1z"/>
<path id="g59" d="M0 0h1v1h-1zM4 0h1v1h-1zM0 1h1v1h-1zM4 1h1v1h-1zM1 2h1v1h-1zM3 2h1v1h-1zM1 3h1v1h-1zM3 3h1v1h-1zM2 4h1v1h-1zM2 5h1v1h-1zM2 6h1v1h-1zM2 7h1v1h-1z"/>
<path id="g5a" d="M0 0h5v1h-5zM4 1h1v1h-1zM3 2h1v1h-1zM2 3h1v1h-1zM2 4h1v1h-1zM1 5h1v1h-1zM0 6h1v1h-1zM0 7h5v1h-5z"/>
<path id="g61" d="M1 2h2v1h-2zM0 3h1v1h-1zM3 3h1v1h-1zM1 4h3v1h-3zM0 5h1v1h-1zM3 5h1v1h-1zM0 6h1v1h-1zM3 6h1v1h-1zM1 7h2v1h-2zM4 7h1v1h-1z"/>
<path id="g63" d="M1 2h2v1h-2zM0 3h1v1h-1zM3 3h1v1h-1zM0 4h1v1h-1zM0 5h1v1h-1zM0 6h1v1h-1zM3 6h1v1h-1zM1 7h2v1h-2z"/>
<path id="g64" d="M3 0h1v1h-1zM3 1h1v1h-1zM1 2h3v1h-3zM0 3h1v1h-1zM3 3h1v1h-1zM0 4h1v1h-1zM3 4h1v1h-1zM0 5h1v1h-1zM3 5h1v1h-1zM0 6h1v1h-1zM3 6h1v1h-1zM1 7h3v1h-3z"/>
<path id="g65" d="M1 2h2v1h-2zM0 3h1v1h-1zM3 3h1v1h-1zM0 4h4v1h-4zM0 5h1v1h-1zM0 6h1v1h-1zM3 6h1v1h-1zM1 7h2v1h-2z"/>
<path id="g6c" d="M0 0h1v1h-1zM0 1h1v1h-1zM0 2h1v1h-1zM0 3h1v1h-1zM0 4h1v1h-1zM0 5h1v1h-1zM0 6h1v1h-1zM0 7h1v1h-1z"/>
<path id="g6d" d="M0 2h1v1h-1zM2 2h1v1h-1zM4 2h2v1h-2zM0 3h2v1h-2zM3 3h1v1h-1zM6 3h1v1h-1zM0 4h1v1h-1zM3 4h1v1h-1zM6 4h1v1h-1zM0 5h1v1h-1zM3 5h1v1h-1zM6 5h1v1h-1zM0 6h1v1h-1zM3 6h1v1h-1zM6 6h1v1h-1zM0 7h1v1h-1zM3 7h1v1h-1zM6 7h1v1h-1z"/>
<path id="g6e" d="M0 2h1v1h-1zM2 2h2v1h-2zM0 3h2v1h-2zM4 3h1v1h-1zM0 4h1v1h-1zM4 4h1v1h-1zM0 5h1v1h-1zM4 5h1v1h-1zM0 6h1v1h-1zM4 6h1v1h-1zM0 7h1v1h-1zM4 7h1v1h-1z"/>
<path id="g6f" d="M1 2h2v1h-2zM0 3h1v1h-1zM3 3h1v1h-1zM0 4h1v1h-1zM3 4h1v1h-1zM0 5h1v1h-1zM3 5h1v1h-1zM0 6h1v1h-1zM3 6h1v1h-1zM1 7h2v1h-2z"/>
<path id="g70" d="M0 2h3v1h-3zM0 3h1v1h-1zM3 3h1v1h-1zM0 4h1v1h-1zM3 4h1v1h-1zM0 5h1v1h-1zM3 5h1v1h-1zM0 6h1v1h-1zM3 6h1v1h-1zM0 7h3v1h-3zM0 8h1v1h-1zM0 9h1v1h-1z"/>
<path id="g73" d="M1 2h2v1h-2zM0 3h1v1h-1zM3 3h1v1h-1zM1 4h2v1h-2zM3 5h1v1h-1zM0 6h1v1h-1zM3 6h1v1h-1zM1 7h2v1h-2z"/>
<path id="g74" d="M0 0h1v1h-1zM0 1h1v1h-1zM0 2h2v1h-2zM0 3h1v1h-1zM0 4h1v1h-1zM0 5h1v1h-1zM0 6h1v1h-1zM0 7h2v1h-2z"/>
<path id="g75" d="M0 2h1v1h-1zM3 2h1v1h-1zM0 3h1v1h-1zM3 3h1v1h-1zM0 4h1v1h-1zM3 4h1v1h-1zM0 5h1v1h-1zM3 5h1v1h-1zM0 6h1v1h-1zM2 6h2v1h-2zM1 7h1v1h-1zM3 7h1v1h-1z"/>
</defs>
<g fill="#000">
<use href="#g31" x="48" y="125"/>
<use href="#g30" x="53" y="125"/>
<use href="#g34" x="58" y="125"/>
<use href="#g38" x="65" y="125"/>
<use href="#g30" x="71" y="125"/>
<use href="#g31" x="48" y="107"/>
<use href="#g30" x="53" y="107"/>
<use href="#g36" x="59" y="107"/>
<use href="#g38" x="65" y="107"/>
<use href="#g30" x="71" y="107"/>
<use href="#g31" x="48" y="90"/>
<use href="#g30" x="53" y="90"/>
<use href="#g38" x="59" y="90"/>
<use href="#g38" x="65" y="90"/>
<use href="#g30" x="71" y="90"/>
<use href="#g31" x="48" y="72"/>
<use href="#g31" x="54" y="72"/>
<use href="#g30" x="59" y="72"/>
<use href="#g38" x="65" y="72"/>
<use href="#g30" x="71" y="72"/>
<use href="#g31" x="48" y="54"/>
<use href="#g31" x="54" y="54"/>
<use href="#g32" x="59" y="54"/>
<use href="#g38" x="65" y="54"/>
<use href="#g30" x="71" y="54"/>
<use href="#g31" x="48" y="37"/>
<use href="#g31" x="54" y="37"/>
<use href="#g34" x="58" y="37"/>
<use href="#g38" x="65" y="37"/>
<use href="#g30" x="71" y="37"/>
<use href="#g31" x="75" y="134"/>
<use href="#g38" x="80" y="134"/>
<use href="#g32" x="121" y="134"/>
<use href="#g31" x="128" y="134"/>
<use href="#g30" x="168" y="134"/>
<use href="#g30" x="174" y="134"/>
<use href="#g30" x="215" y="134"/>
<use href="#g33" x="221" y="134"/>
<use href="#g30" x="262" y="134"/>
<use href="#g36" x="268" y="134"/>
<use href="#g30" x="310" y="134"/>
<use href="#g39" x="316" y="134"/>
<use href="#g31" x="358" y="134"/>
<use href="#g32" x="363" y="134"/>
<use href="#g31" x="405" y="134"/>
<use href="#g35" x="410" y="134"/>
<use href="#g31" x="452" y="134"/>
<use href="#g38" x="457" y="134"/>
<use href="#g32" x="498" y="134"/>
<use href="#g31" x="505" y="134"/>
<use href="#g32" x="545" y="134"/>
<use href="#g34" x="550" y="134"/>
<use href="#g31" x="54" y="255"/>
<use href="#g34" x="58" y="255"/>
<use href="#g36" x="65" y="255"/>
<use href="#g30" x="71" y="255"/>
<use href="#g31" x="54" y="237"/>
<use href="#g36" x="59" y="237"/>
<use href="#g36" x="65" y="237"/>
<use href="#g30" x="71" y="237"/>
<use href="#g31" x="54" y="220"/>
<use href="#g38" x="59" y="220"/>
<use href="#g36" x="65" y="220"/>
<use href="#g30" x="71" y="220"/>
<use href="#g32" x="53" y="202"/>
<use href="#g30" x="59" y="202"/>
<use href="#g36" x="65" y="202"/>
<use href="#g30" x="71" y="202"/>
<use href="#g32" x="53" y="184"/>
<use href="#g32" x="59" y="184"/>
<use href="#g36" x="65" y="184"/>
<use href="#g30" x="71" y="184"/>
<use href="#g32" x="53" y="167"/>
<use href="#g34" x="58" y="167"/>
<use href="#g36" x="65" y="167"/>
<use href="#g30" x="71" y="167"/>
<use href="#g31" x="75" y="264"/>
<use href="#g38" x="80" y="264"/>
<use href="#g32" x="121" y="264"/>
<use href="#g31" x="128" y="264"/>
<use href="#g30" x="168" y="264"/>
<use href="#g30" x="174" y="264"/>
<use href="#g30" x="215" y="264"/>
<use href="#g33" x="221" y="264"/>
<use href="#g30" x="262" y="264"/>
<use href="#g36" x="268" y="264"/>
<use href="#g30" x="310" y="264"/>
<use href="#g39" x="316" y="264"/>
<use href="#g31" x="358" y="264"/>
<use href="#g32" x="363" y="264"/>
<use href="#g31" x="405" y="264"/>
<use href="#g35" x="410" y="264"/>
<use href="#g31" x="452" y="264"/>
<use href="#g38" x="457" y="264"/>
<use href="#g32" x="498" y="264"/>
<use href="#g31" x="505" y="264"/>
<use href="#g32" x="545" y="264"/>
<use href="#g34" x="550" y="264"/>
<use href="#g35" x="47" y="385"/>
<use href="#g30" x="53" y="385"/>
<use href="#g37" x="59" y="385"/>
<use href="#g31" x="66" y="385"/>
<use href="#g30" x="71" y="385"/>
<use href="#g35" x="47" y="367"/>
<use href="#g30" x="53" y="367"/>
<use href="#g39" x="59" y="367"/>
<use href="#g31" x="66" y="367"/>
<use href="#g30" x="71" y="367"/>
<use href="#g35" x="47" y="350"/>
<use href="#g31" x="54" y="350"/>
<use href="#g31" x="60" y="350"/>
<use href="#g31" x="66" y="350"/>
<use href="#g30" x="71" y="350"/>
<use href="#g35" x="47" y="332"/>
<use href="#g31" x="54" y="332"/>
<use href="#g33" x="59" y="332"/>
<use href="#g31" x="66" y="332"/>
<use href="#g30" x="71" y="332"/>
<use href="#g35" x="47" y="314"/>
<use href="#g31" x="54" y="314"/>
<use href="#g35" x="59" y="314"/>
<use href="#g31" x="66" y="314"/>
<use href="#g30" x="71" y="314"/>
<use href="#g35" x="47" y="297"/>
<use href="#g31" x="54" y="297"/>
<use href="#g37" x="59" y="297"/>
<use href="#g31" x="66" y="297"/>
<use href="#g30" x="71" y="297"/>
<use href="#g31" x="75" y="394"/>
<use href="#g38" x="80" y="394"/>
<use href="#g32" x="121" y="394"/>
<use href="#g31" x="128" y="394"/>
<use href="#g30" x="168" y="394"/>
<use href="#g30" x="174" y="394"/>
<use href="#g30" x="215" y="394"/>
<use href="#g33" x="221" y="394"/>
<use href="#g30" x="262" y="394"/>
<use href="#g36" x="268" y="394"/>
<use href="#g30" x="310" y="394"/>
<use href="#g39" x="316" y="394"/>
<use href="#g31" x="358" y="394"/>
<use href="#g32" x="363" y="394"/>
<use href="#g31" x="405" y="394"/>
<use href="#g35" x="410" y="394"/>
<use href="#g31" x="452" y="394"/>
<use href="#g38" x="457" y="394"/>
<use href="#g32" x="498" y="394"/>
<use href="#g31" x="505" y="394"/>
<use href="#g32" x="545" y="394"/>
<use href="#g34" x="550" y="394"/>
<use href="#g53" x="138" y="17"/>
<use href="#g4f" x="144" y="17"/>
<use href="#g44" x="152" y="17"/>
<use href="#g58" x="161" y="17"/>
<use href="#g43" x="169" y="17"/>
<use href="#g6f" x="177" y="17"/>
<use href="#g6d" x="182" y="17"/>
<use href="#g70" x="191" y="17"/>
<use href="#g30" x="205" y="17"/>
<use href="#g31" x="212" y="17"/>
<use href="#g2e" x="217" y="17"/>
<use href="#g31" x="221" y="17"/>
<use href="#g30" x="226" y="17"/>
<use href="#g2e" x="232" y="17"/>
<use href="#g32" x="235" y="17"/>
<use href="#g30" x="241" y="17"/>
<use href="#g30" x="247" y="17"/>
<use href="#g32" x="253" y="17"/>
<use href="#g31" x="268" y="17"/>
<use href="#g38" x="273" y="17"/>
<use href="#g55" x="280" y="17"/>
<use href="#g54" x="287" y="17"/>
<use href="#g2d" x="301" y="17"/>
<use href="#g30" x="313" y="17"/>
<use href="#g32" x="319" y="17"/>
<use href="#g2e" x="325" y="17"/>
<use href="#g31" x="329" y="17"/>
<use href="#g30" x="334" y="17"/>
<use href="#g2e" x="340" y="17"/>
<use href="#g32" x="343" y="17"/>
<use href="#g30" x="349" y="17"/>
<use href="#g30" x="355" y="17"/>
<use href="#g32" x="361" y="17"/>
<use href="#g32" x="375" y="17"/>
<use href="#g34" x="380" y="17"/>
<use href="#g55" x="388" y="17"/>
<use href="#g54" x="395" y="17"/>
<use href="#g46" x="414" y="17"/>
<use href="#g75" x="420" y="17"/>
<use href="#g6c" x="425" y="17"/>
<use href="#g6c" x="427" y="17"/>
<use href="#g73" x="429" y="17"/>
<use href="#g63" x="434" y="17"/>
<use href="#g61" x="439" y="17"/>
<use href="#g6c" x="444" y="17"/>
<use href="#g65" x="447" y="17"/>
<use href="#g31" x="456" y="17"/>
<use href="#g31" x="462" y="17"/>
<use href="#g30" x="467" y="17"/>
<use href="#g30" x="473" y="17"/>
<use href="#g6e" x="480" y="17"/>
<use href="#g54" x="486" y="17"/>
<use href="#g59" x="297" y="148"/>
<use href="#g43" x="305" y="148"/>
<use href="#g6f" x="313" y="148"/>
<use href="#g6d" x="318" y="148"/>
<use href="#g70" x="327" y="148"/>
<use href="#g5a" x="297" y="277"/>
<use href="#g43" x="305" y="277"/>
<use href="#g6f" x="313" y="277"/>
<use href="#g6d" x="318" y="277"/>
<use href="#g70" x="327" y="277"/>
<use href="#g4c" x="265" y="405"/>
<use href="#g61" x="270" y="405"/>
<use href="#g73" x="275" y="405"/>
<use href="#g74" x="280" y="405"/>
<use href="#g75" x="286" y="405"/>
<use href="#g70" x="292" y="405"/>
<use href="#g64" x="298" y="405"/>
<use href="#g61" x="303" y="405"/>
<use href="#g74" x="308" y="405"/>
<use href="#g65" x="312" y="405"/>
<use href="#g64" x="318" y="405"/>
<use href="#g31" x="327" y="405"/>
<use href="#g30" x="332" y="405"/>
<use href="#g34" x="337" y="405"/>
<use href="#g34" x="343" y="405"/>
<use href="#g55" x="353" y="405"/>
<use href="#g54" x="360" y="405"/>
</g>
</g>
<text x="75" y="133" text-anchor="end">10480</text>
<text x="75" y="115" text-anchor="end">10680</text>
<text x="75" y="98" text-anchor="end">10880</text>
<text x="75" y="80" text-anchor="end">11080</text>
<text x="75" y="62" text-anchor="end">11280</text>
<text x="75" y="45" text-anchor="end">11480</text>
<text x="79" y="142" text-anchor="middle">18</text>
<text x="126" y="142" text-anchor="middle">21</text>
<text x="173" y="142" text-anchor="middle">00</text>
<text x="220" y="142" text-anchor="middle">03</text>
<text x="267" y="142" text-anchor="middle">06</text>
<text x="315" y="142" text-anchor="middle">09</text>
<text x="362" y="142" text-anchor="middle">12</text>
<text x="409" y="142" text-anchor="middle">15</text>
<text x="456" y="142" text-anchor="middle">18</text>
<text x="503" y="142" text-anchor="middle">21</text>
<text x="550" y="142" text-anchor="middle">24</text>
<text x="75" y="263" text-anchor="end">1460</text>
<text x="75" y="245" text-anchor="end">1660</text>
<text x="75" y="228" text-anchor="end">1860</text>
<text x="75" y="210" text-anchor="end">2060</text>
<text x="75" y="192" text-anchor="end">2260</text>
<text x="75" y="175" text-anchor="end">2460</text>
<text x="79" y="272" text-anchor="middle">18</text>
<text x="126" y="272" text-anchor="middle">21</text>
<text x="173" y="272" text-anchor="middle">00</text>
<text x="220" y="272" text-anchor="middle">03</text>
<text x="267" y="272" text-anchor="middle">06</text>
<text x="315" y="272" text-anchor="middle">09</text>
<text x="362" y="272" text-anchor="middle">12</text>
<text x="409" y="272" text-anchor="middle">15</text>
<text x="456" y="272" text-anchor="middle">18</text>
<text x="503" y="272" text-anchor="middle">21</text>
<text x="550" y="272" text-anchor="middle">24</text>
<text x="75" y="393" text-anchor="end">50710</text>
<text x="75" y="375" text-anchor="end">50910</text>
<text x="75" y="358" text-anchor="end">51110</text>
<text x="75" y="340" text-anchor="end">51310</text>
<text x="75" y="322" text-anchor="end">51510</text>
<text x="75" y="305" text-anchor="end">51710</text>
<text x="79" y="402" text-anchor="middle">18</text>
<text x="126" y="402" text-anchor="middle">21</text>
<text x="173" y="402" text-anchor="middle">00</text>
<text x="220" y="402" text-anchor="middle">03</text>
<text x="267" y="402" text-anchor="middle">06</text>
<text x="315" y="402" text-anchor="middle">09</text>
<text x="362" y="402" text-anchor="middle">12</text>
<text x="409" y="402" text-anchor="middle">15</text>
<text x="456" y="402" text-anchor="middle">18</text>
<text x="503" y="402" text-anchor="middle">21</text>
<text x="550" y="402" text-anchor="middle">24</text>
<text x="138" y="25" text-anchor="start">SOD X Comp   01.10.2002   18 UT   -   02.10.2002   24 UT     Fullscale 1100 nT</text>
<text x="297" y="156" text-anchor="start">Y Comp</text>
<text x="297" y="285" text-anchor="start">Z Comp</text>
<text x="265" y="413" text-anchor="start">Last updated 1044 UT</text>
</svg></body></html>
